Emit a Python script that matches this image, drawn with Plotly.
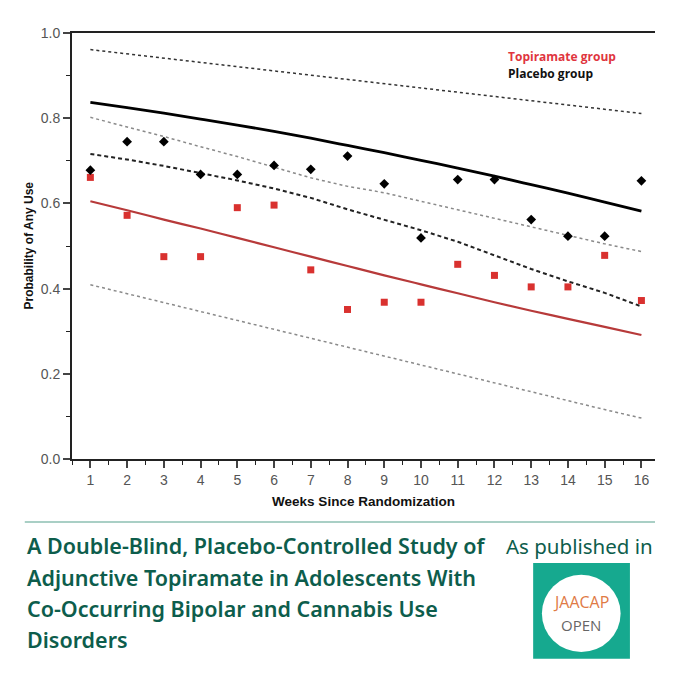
"""Probability of any cannabis use by week: topiramate vs placebo, with fitted curves and CIs."""

import plotly.graph_objects as go

weeks = list(range(1, 17))

# observed proportions
placebo_obs = [0.678, 0.745, 0.745, 0.668, 0.668, 0.689, 0.680, 0.711,
               0.646, 0.519, 0.656, 0.656, 0.562, 0.523, 0.523, 0.653]
topiramate_obs = [0.661, 0.572, 0.475, 0.475, 0.590, 0.596, 0.444, 0.351,
                  0.368, 0.368, 0.457, 0.431, 0.404, 0.404, 0.478, 0.372]

# model estimates and confidence bounds
placebo_fit = [0.837, 0.825, 0.812, 0.798, 0.784, 0.769, 0.753, 0.736,
               0.719, 0.701, 0.683, 0.664, 0.644, 0.624, 0.603, 0.582]
placebo_upper = [0.961, 0.951, 0.941, 0.931, 0.921, 0.911, 0.901, 0.891,
                 0.881, 0.871, 0.861, 0.851, 0.841, 0.831, 0.821, 0.811]
placebo_lower = [0.716, 0.703, 0.688, 0.671, 0.654, 0.635, 0.613, 0.586,
                 0.562, 0.537, 0.510, 0.478, 0.446, 0.417, 0.390, 0.358]
topiramate_fit = [0.605, 0.584, 0.562, 0.541, 0.519, 0.497, 0.475, 0.453,
                  0.431, 0.410, 0.389, 0.368, 0.348, 0.329, 0.310, 0.291]
topiramate_upper = [0.802, 0.780, 0.757, 0.733, 0.710, 0.685, 0.660, 0.640,
                    0.625, 0.605, 0.585, 0.565, 0.545, 0.525, 0.505, 0.487]
topiramate_lower = [0.409, 0.388, 0.367, 0.346, 0.325, 0.304, 0.283, 0.263,
                    0.242, 0.221, 0.200, 0.179, 0.158, 0.137, 0.116, 0.096]

y_ticks = [0.0, 0.2, 0.4, 0.6, 0.8, 1.0]
y_tick_labels = ["0.0", "0.2", "0.4", "0.6", "0.8", "1.0"]

title_lines = [
    "A Double-Blind, Placebo-Controlled Study of",
    "Adjunctive Topiramate in Adolescents With",
    "Co-Occurring Bipolar and Cannabis Use",
    "Disorders",
]

RED, DARK_RED, GREEN, TEAL = "#d9312f", "#b73a3a", "#0d5d4c", "#16a98f"

fig = go.Figure()

# confidence bounds
fig.add_trace(go.Scatter(x=weeks, y=topiramate_upper, mode="lines", line=dict(color="#8a8a8a", width=1.5, dash="dot")))
fig.add_trace(go.Scatter(x=weeks, y=topiramate_lower, mode="lines", line=dict(color="#8a8a8a", width=1.5, dash="dot")))
fig.add_trace(go.Scatter(x=weeks, y=placebo_upper, mode="lines", line=dict(color="#333", width=1.5, dash="3px,3px")))
fig.add_trace(go.Scatter(x=weeks, y=placebo_lower, mode="lines", line=dict(color="#222", width=2, dash="4px,3px")))

# fitted curves
fig.add_trace(go.Scatter(x=weeks, y=topiramate_fit, mode="lines", line=dict(color=DARK_RED, width=2.2, shape="spline")))
fig.add_trace(go.Scatter(x=weeks, y=placebo_fit, mode="lines", line=dict(color="black", width=2.8, shape="spline")))

# observed points
fig.add_trace(go.Scatter(x=weeks, y=topiramate_obs, mode="markers", marker=dict(symbol="square", size=7, color=RED)))
fig.add_trace(go.Scatter(x=weeks, y=placebo_obs, mode="markers", marker=dict(symbol="diamond", size=7.5, color="black")))

fig.update_xaxes(
    range=[0.5, 16.37], tickvals=weeks, ticks="outside", ticklen=7, tickwidth=1.5,
    showline=True, linecolor="#222", linewidth=2, mirror=True, showgrid=False, zeroline=False,
    minor=dict(dtick=0.5, tick0=0.5, ticks="outside", ticklen=4, tickwidth=1.2, tickcolor="#222"),
    tickfont=dict(family="Liberation Sans, Arial", size=14, color="#555"),
    title=dict(text="<b>Weeks Since Randomization</b>", font=dict(family="Liberation Sans, Arial", size=13.5, color="#111"), standoff=10),
)
fig.update_yaxes(
    range=[0, 1], tickvals=y_ticks, ticktext=y_tick_labels, ticks="outside", ticklen=7, tickwidth=1.5,
    showline=True, linecolor="#222", linewidth=2, showgrid=False, zeroline=False,
    minor=dict(dtick=0.1, ticks="outside", ticklen=4, tickwidth=1.2, tickcolor="#222"),
    tickfont=dict(family="Liberation Sans, Arial", size=14, color="#555"),
)

annotations = [
    dict(text="<b>Probability of Any Use</b>", xref="paper", yref="paper", x=-0.09, y=0.5,
         textangle=-90, showarrow=False, font=dict(family="Liberation Sans, Arial", size=12, color="#111")),
    dict(text="<b>Topiramate group</b>", xref="paper", yref="paper", x=0.745, y=0.969, xanchor="left",
         showarrow=False, font=dict(family="Open Sans", size=12, color="#e0353e")),
    dict(text="<b>Placebo group</b>", xref="paper", yref="paper", x=0.745, y=0.929, xanchor="left",
         showarrow=False, font=dict(family="Open Sans", size=12, color="#111")),
    dict(text="As published in", xref="paper", yref="paper", x=1.0, y=-0.204, xanchor="right", yanchor="middle",
         showarrow=False, font=dict(family="Noto Sans", size=20.5, color=GREEN)),
    dict(text="JAACAP", xref="paper", yref="paper", x=0.8735, y=-0.336, xanchor="center", yanchor="middle",
         showarrow=False, font=dict(family="Open Sans", size=16, color="#e07a45")),
    dict(text="OPEN", xref="paper", yref="paper", x=0.8735, y=-0.389, xanchor="center", yanchor="middle",
         showarrow=False, font=dict(family="Open Sans", size=15, color="#666")),
]
for i, line in enumerate(title_lines):
    annotations.append(dict(text=line, xref="paper", yref="paper", x=-0.081, y=-0.204 - i * 0.0735,
                            xanchor="left", yanchor="middle", showarrow=False,
                            font=dict(family="Noto Sans", size=21.5, color=GREEN, weight=600)))

# page has an 8px body margin, so the figure is 672 wide/high to fill the 680 window
fig.update_layout(
    width=672, height=672, template="simple_white", showlegend=False,
    margin=dict(l=64, r=25, t=25, b=221), plot_bgcolor="white", paper_bgcolor="white",
    annotations=annotations,
    shapes=[
        dict(type="line", xref="paper", yref="paper", x0=-0.081, x1=1.0, y0=-0.148, y1=-0.148,
             line=dict(color="#8dbfb2", width=1.5), opacity=1),
        dict(type="rect", xref="paper", yref="paper", x0=0.791, x1=0.957, y0=-0.469, y1=-0.244,
             fillcolor=TEAL, line=dict(width=0), opacity=1),
        dict(type="circle", xref="paper", yref="paper", x0=0.806, x1=0.941, y0=-0.453, y1=-0.272,
             fillcolor="white", line=dict(width=0), opacity=1),
    ],
)

fig.write_html("out.html")
